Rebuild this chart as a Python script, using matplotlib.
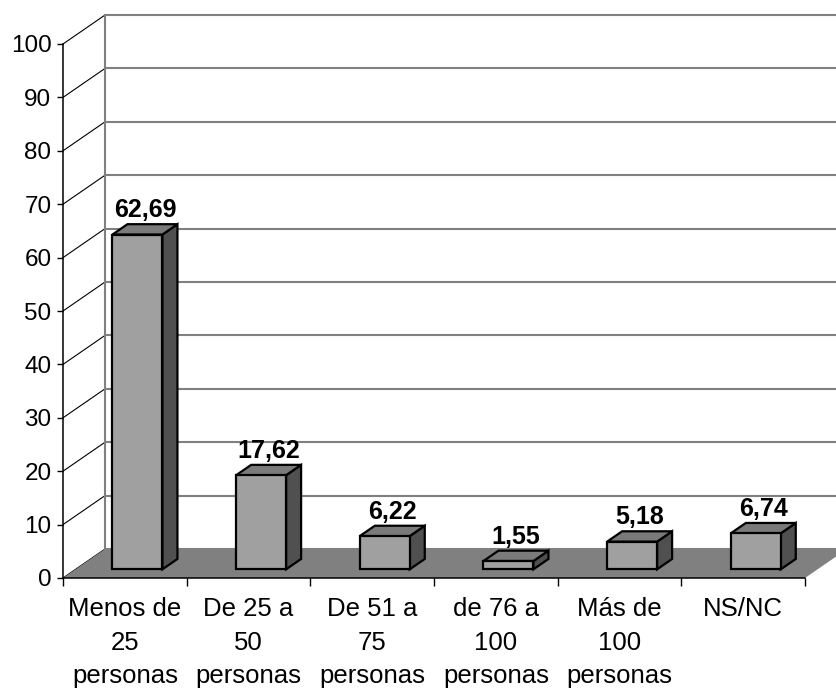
import matplotlib
matplotlib.use("Agg")
import matplotlib.pyplot as plt
from matplotlib.patches import Polygon

plt.rcParams["font.family"] = ["Liberation Sans", "DejaVu Sans"]

categories = [
    "Menos de\n25\npersonas",
    "De 25 a\n50\npersonas",
    "De 51 a\n75\npersonas",
    "de 76 a\n100\npersonas",
    "Más de\n100\npersonas",
    "NS/NC",
]
values = [62.69, 17.62, 6.22, 1.55, 5.18, 6.74]
y_ticks = list(range(0, 101, 10))

# pseudo-3D geometry (in data units of the front plane)
wall_dx, wall_dy = 0.34, 5.43       # offset of the back wall
bar_width = 0.404
front_f, back_f = 0.30, 0.657       # bar depth position as fraction of wall depth

W, H = 837, 691
fig = plt.figure(figsize=(W / 100, H / 100), dpi=100)
ax = fig.add_axes([63 / W, 113 / H, 742 / W, 534 / H])
ax.set_xlim(0, len(categories))
ax.set_ylim(0, 100)

# back wall: gridlines, left edge and connecting diagonals
xr = len(categories) + wall_dx + 1
for t in y_ticks:
    ax.plot([wall_dx, xr], [t + wall_dy, t + wall_dy], color="#808080",
            lw=1.5, clip_on=False, zorder=1, solid_capstyle="butt")
    ax.plot([0, wall_dx], [t, t + wall_dy], color="black", lw=0.8,
            clip_on=False, zorder=1)
ax.plot([wall_dx, wall_dx], [wall_dy, 100 + wall_dy], color="#808080",
        lw=1.5, clip_on=False, zorder=1)

# floor
n = len(categories)
ax.add_patch(Polygon([(0, 0), (n, 0), (n + wall_dx, wall_dy), (wall_dx, wall_dy)],
                     closed=True, facecolor="#808080", edgecolor="none",
                     clip_on=False, zorder=2))

# bars
ddx = (back_f - front_f) * wall_dx
ddy = (back_f - front_f) * wall_dy
edge = dict(edgecolor="black", lw=1.6, joinstyle="miter", clip_on=False)
for i, v in enumerate(values):
    c = i + 0.5
    x0 = c - bar_width / 2 + front_f * wall_dx
    x1 = x0 + bar_width
    y0 = front_f * wall_dy
    y1 = y0 + v
    side = [(x1, y0), (x1 + ddx, y0 + ddy), (x1 + ddx, y1 + ddy), (x1, y1)]
    top = [(x0, y1), (x1, y1), (x1 + ddx, y1 + ddy), (x0 + ddx, y1 + ddy)]
    front = [(x0, y0), (x1, y0), (x1, y1), (x0, y1)]
    ax.add_patch(Polygon(side, closed=True, facecolor="#505050", zorder=3, **edge))
    ax.add_patch(Polygon(top, closed=True, facecolor="#7a7a7a", zorder=3, **edge))
    ax.add_patch(Polygon(front, closed=True, facecolor="#a0a0a0", zorder=4, **edge))
    ax.annotate(f"{v:.2f}".replace(".", ","),
                xy=(x0 + bar_width / 2 + ddx / 2, y1 + ddy),
                xytext=(0, 5), textcoords="offset points",
                ha="center", va="baseline", fontsize=18, fontweight="bold",
                zorder=5)

# axes
for s in ("top", "right"):
    ax.spines[s].set_visible(False)
for s in ("left", "bottom"):
    ax.spines[s].set_color("black")
    ax.spines[s].set_linewidth(1.1)
    ax.spines[s].set_zorder(6)
ax.set_yticks(y_ticks)
ax.set_yticklabels([str(t) for t in y_ticks], fontsize=17.5)
ax.tick_params(axis="y", length=4.3, width=1, pad=4)
ax.set_xticks(range(n + 1))
ax.set_xticklabels([])
ax.tick_params(axis="x", which="major", length=5.5, width=1)
ax.set_xticks([i + 0.5 for i in range(n)], minor=True)
ax.set_xticklabels(categories, minor=True, fontsize=18.5, linespacing=1.5,
                   va="top")
ax.tick_params(axis="x", which="minor", length=0, pad=14)
ax.patch.set_visible(False)

fig.savefig("out.png", dpi=100)
